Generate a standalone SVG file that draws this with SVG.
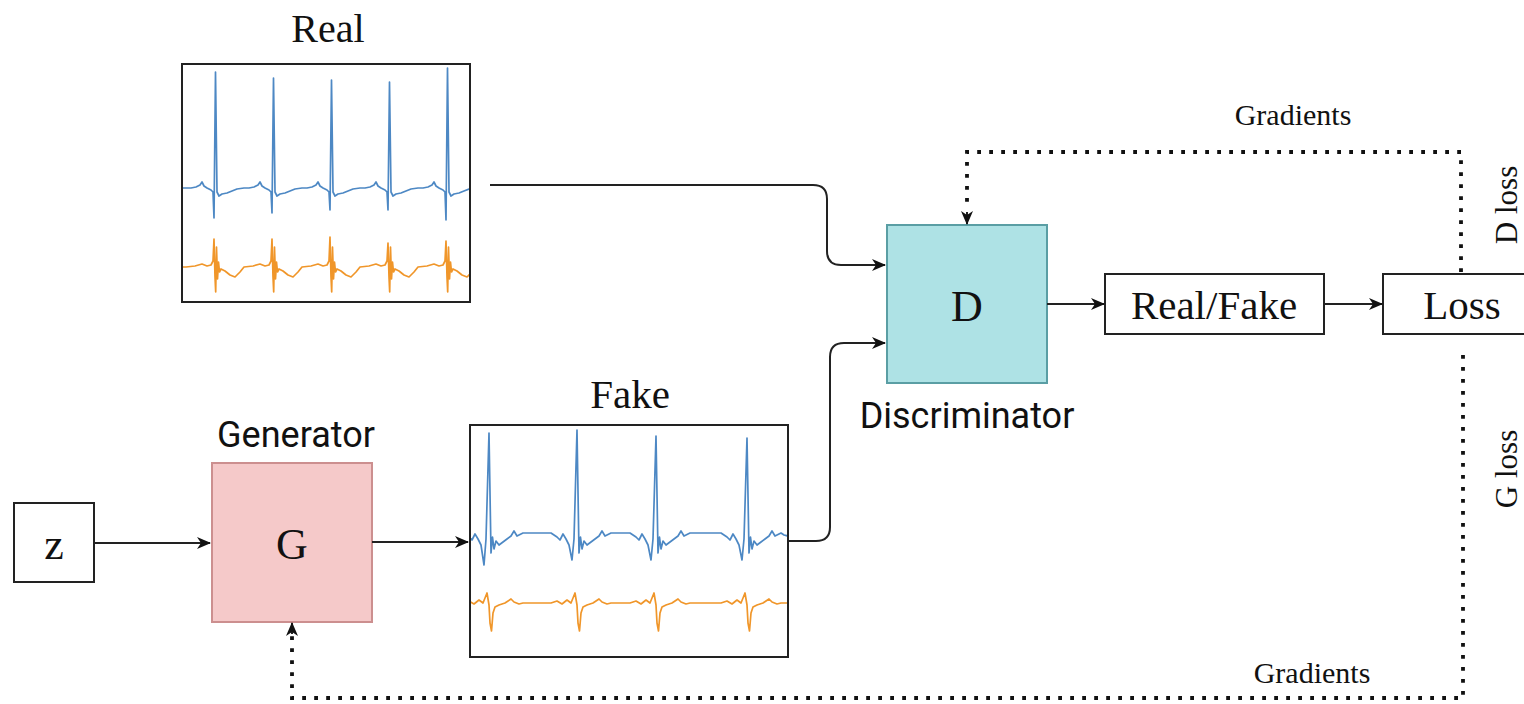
<svg xmlns="http://www.w3.org/2000/svg" width="1524" height="704" viewBox="0 0 1524 704">
<style>
.serif{font-family:"Liberation Serif","Times New Roman",serif;fill:#111}
.sans{font-family:Roboto,"Liberation Sans",sans-serif;fill:#111}
.box{fill:#fff;stroke:#222;stroke-width:2}
.conn{fill:none;stroke:#222;stroke-width:2}
.dot{fill:none;stroke:#111;stroke-width:3.8;stroke-dasharray:3.8 8.2}
.blue{fill:none;stroke:#4d88c4;stroke-width:1.7;stroke-linejoin:round}
.orange{fill:none;stroke:#f0962a;stroke-width:1.7;stroke-linejoin:round}
</style>
<defs>
<marker id="arr" markerWidth="14" markerHeight="12" refX="13" refY="6" orient="auto" markerUnits="userSpaceOnUse">
<path d="M0,0 L14,6 L0,12 L4,6 Z" fill="#111"/>
</marker>
<clipPath id="clipReal"><rect x="183" y="65" width="286" height="236"/></clipPath>
<clipPath id="clipFake"><rect x="471" y="425" width="316" height="231"/></clipPath>
</defs>
<rect width="1524" height="704" fill="#fff"/>

<g id="real-signal">
<text class="serif" x="328" y="42" font-size="40" text-anchor="middle">Real</text>
<rect class="box" x="182" y="64" width="288" height="238"/>
<g clip-path="url(#clipReal)">
<path class="blue" d="M182,188 L186,188
l5,0 l5,-1 l4,-2 l2,-3 l2,4 l3,2 l4,2 l2,2 l1,26 l1.5,-146 l1.5,120 l2,4 l3,-2 l5,-1 l5,-2 l5,-2 l7,-1
l5,0 l5,-1 l4,-2 l2,-3 l2,4 l3,2 l4,2 l2,2 l1,21 l1.5,-135 l1.5,114 l2,4 l3,-2 l5,-1 l5,-2 l5,-2 l7,-1
l5,0 l5,-1 l4,-2 l2,-3 l2,4 l3,2 l4,2 l2,2 l1,18 l1.5,-130 l1.5,112 l2,4 l3,-2 l5,-1 l5,-2 l5,-2 l7,-1
l5,0 l5,-1 l4,-2 l2,-3 l2,4 l3,2 l4,2 l2,2 l1,18 l1.5,-128 l1.5,110 l2,4 l3,-2 l5,-1 l5,-2 l5,-2 l7,-1
l5,0 l5,-1 l4,-2 l2,-3 l2,4 l3,2 l4,2 l2,2 l1,28 l1.5,-152 l1.5,124 l2,4 l3,-2 l5,-1 l5,-2 l5,-2 l7,-1"/>
<path class="orange" d="M182,267 L186,267
l9,-1 l7,-2 l5,2 l4,-1 l2,-4 l1,-22 l1,38 l0.7,15 l0.8,-45 l1,32 l1,-17 l1,10 l1.5,-3 l4,2 l5,4 l5,2 l5,-5 l4,-5
l9,-1 l7,-2 l5,2 l4,-1 l2,-4 l1,-22 l1,38 l0.7,15 l0.8,-45 l1,32 l1,-17 l1,10 l1.5,-3 l4,2 l5,4 l5,2 l5,-5 l4,-5
l9,-1 l7,-2 l5,2 l4,-1 l2,-4 l1,-24 l1,40 l0.7,15 l0.8,-45 l1,32 l1,-17 l1,10 l1.5,-3 l4,2 l5,4 l5,2 l5,-5 l4,-5
l9,-1 l7,-2 l5,2 l4,-1 l2,-4 l1,-18 l1,34 l0.7,15 l0.8,-45 l1,32 l1,-17 l1,10 l1.5,-3 l4,2 l5,4 l5,2 l5,-5 l4,-5
l9,-1 l7,-2 l5,2 l4,-1 l2,-4 l1,-20 l1,36 l0.7,15 l0.8,-45 l1,32 l1,-17 l1,10 l1.5,-3 l4,2 l5,4 l5,2 l5,-5 l4,-5"/>
</g>
</g>

<g id="fake-signal">
<text class="serif" x="630" y="408" font-size="41" text-anchor="middle">Fake</text>
<rect class="box" x="470" y="425" width="318" height="232"/>
<g clip-path="url(#clipFake)">
<path class="blue" d="M463,533
l6,4 l3,3 l3,-6 l3,5 l3,6 l3,20 l2,-26 l3,-106 l2,120 l1.5,-16 l1.5,12 l2,-8 l3,4 l4,-3 l4,-3 l4,-3 l3,-5 l3,5 l6,-3
h28
l6,4 l3,3 l3,-6 l3,5 l3,6 l3,15 l2,-21 l3,-109 l2,123 l1.5,-16 l1.5,12 l2,-8 l3,4 l4,-3 l4,-3 l4,-3 l3,-5 l3,5 l6,-3
h19
l6,4 l3,3 l3,-6 l3,5 l3,6 l3,15 l2,-21 l3,-103 l2,117 l1.5,-16 l1.5,12 l2,-8 l3,4 l4,-3 l4,-3 l4,-3 l3,-5 l3,5 l6,-3
h31
l6,4 l3,3 l3,-6 l3,5 l3,6 l3,15 l2,-21 l3,-101 l2,115 l1.5,-16 l1.5,12 l2,-8 l3,4 l4,-3 l4,-3 l4,-3 l3,-5 l3,5 l6,-3
l3,2 l4,1"/>
<path class="orange" d="M463,603
l6,-2 l5,3 l5,-4 l4,3 l2,-5 l2,-5 l2,12 l1,18 l1.5,8 l1.5,-18 l2,-6 l4,-2 l6,-2 l6,-4 l3,3 l5,2 l4,-1
h28
l6,-2 l5,3 l5,-4 l4,3 l2,-5 l2,-5 l2,12 l1,18 l1.5,8 l1.5,-18 l2,-6 l4,-2 l6,-2 l6,-4 l3,3 l5,2 l4,-1
h19
l6,-2 l5,3 l5,-4 l4,3 l2,-5 l2,-5 l2,12 l1,18 l1.5,8 l1.5,-18 l2,-6 l4,-2 l6,-2 l6,-4 l3,3 l5,2 l4,-1
h31
l6,-2 l5,3 l5,-4 l4,3 l2,-5 l2,-5 l2,12 l1,18 l1.5,8 l1.5,-18 l2,-6 l4,-2 l6,-2 l6,-4 l3,3 l5,2 l4,-1
l10,0"/>
</g>
</g>

<g id="z">
<rect class="box" x="14" y="503" width="80" height="79"/>
<text class="serif" x="54" y="559" font-size="44" text-anchor="middle">z</text>
</g>

<g id="generator">
<text class="sans" x="296" y="447" font-size="36" text-anchor="middle">Generator</text>
<rect x="212" y="463" width="160" height="159" fill="#f5c9c9" stroke="#cc8f8f" stroke-width="2"/>
<text class="serif" x="292" y="559" font-size="44" text-anchor="middle">G</text>
</g>

<g id="discriminator">
<rect x="887" y="225" width="160" height="158" fill="#aee2e5" stroke="#5a9ea4" stroke-width="2"/>
<text class="serif" x="967" y="321" font-size="44" text-anchor="middle">D</text>
<text class="sans" x="967" y="428" font-size="36" text-anchor="middle">Discriminator</text>
</g>

<g id="real-fake">
<rect class="box" x="1105" y="274" width="219" height="60"/>
<text class="serif" x="1214" y="319" font-size="41" text-anchor="middle">Real/Fake</text>
</g>

<g id="loss">
<rect class="box" x="1383" y="274" width="150" height="60"/>
<text class="serif" x="1462" y="319" font-size="41" text-anchor="middle">Loss</text>
</g>

<g id="connectors">
<path class="conn" d="M94,543 L210,543" marker-end="url(#arr)"/>
<path class="conn" d="M372,542 L468,542" marker-end="url(#arr)"/>
<path class="conn" d="M490,185 L813,185 Q827,185 827,199 L827,251 Q827,265 841,265 L885,265" marker-end="url(#arr)"/>
<path class="conn" d="M788,541 L816,541 Q830,541 830,527 L830,357 Q830,343 844,343 L885,343" marker-end="url(#arr)"/>
<path class="conn" d="M1047,304 L1104,304" marker-end="url(#arr)"/>
<path class="conn" d="M1324,304 L1382,304" marker-end="url(#arr)"/>
<path class="dot" d="M1461,272 L1461,152 L967,152 L967,210"/>
<path class="conn" d="M967,212 L967,224" marker-end="url(#arr)"/>
<path class="dot" d="M1463,355 L1463,698 L292,698 L292,636"/>
<path class="conn" d="M292,634 L292,623" marker-end="url(#arr)"/>
<text class="serif" x="1293" y="125" font-size="30" text-anchor="middle">Gradients</text>
<text class="serif" x="1312" y="683" font-size="30" text-anchor="middle">Gradients</text>
<text class="serif" font-size="31" text-anchor="middle" transform="translate(1517,205) rotate(-90)">D loss</text>
<text class="serif" font-size="31" text-anchor="middle" transform="translate(1517,469) rotate(-90)">G loss</text>
</g>
</svg>
